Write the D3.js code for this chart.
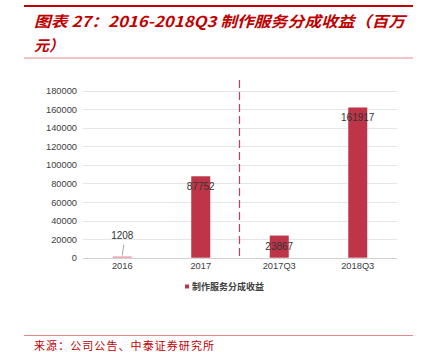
<!DOCTYPE html>
<html><head><meta charset="utf-8">
<script src="https://cdn.jsdelivr.net/npm/d3@7/dist/d3.min.js"></script>
<style>body{margin:0;background:#fff}svg{display:block}</style>
</head><body>
<script>
const categories = ["2016", "2017", "2017Q3", "2018Q3"];
const values = [1208, 87752, 23867, 161917];
const yTicks = [0, 20000, 40000, 60000, 80000, 100000, 120000, 140000, 160000, 180000];
const seriesName = "制作服务分成收益";
const titleLine1 = "图表 27：2016-2018Q3 制作服务分成收益（百万";
const titleLine2 = "元）";
const sourceText = "来源：公司公告、中泰证券研究所";

const W = 424, H = 352;
const svg = d3.select("body").append("svg").attr("width", W).attr("height", H);
const red = "#c00000";
const barColor = "#be3449";
const cjk = "'Noto Sans CJK SC', sans-serif";
const latin = "'Liberation Sans', Arial, sans-serif";

// header
svg.append("line").attr("x1", 24).attr("x2", 413).attr("y1", 6).attr("y2", 6)
  .attr("stroke", red).attr("stroke-width", 2);
svg.append("text").attr("x", 34).attr("y", 27).text(titleLine1)
  .attr("font-family", cjk).attr("font-size", 15).attr("font-weight", "bold")
  .attr("font-style", "italic").attr("fill", red)
  .attr("textLength", 371).attr("lengthAdjust", "spacingAndGlyphs");
svg.append("text").attr("x", 34).attr("y", 51).text(titleLine2)
  .attr("font-family", cjk).attr("font-size", 15).attr("font-weight", "bold")
  .attr("font-style", "italic").attr("fill", red);
svg.append("line").attr("x1", 24).attr("x2", 413).attr("y1", 58).attr("y2", 58)
  .attr("stroke", "#e88a8a").attr("stroke-width", 1);

// plot
const x = d3.scaleBand().domain(categories).range([83, 397]);
const y = d3.scaleLinear().domain([0, 180000]).range([257.7, 90.7]);

const grid = svg.append("g");
grid.selectAll("line").data(yTicks).join("line")
  .attr("x1", 83).attr("x2", 397)
  .attr("y1", d => Math.round(y(d)) + 0.5).attr("y2", d => Math.round(y(d)) + 0.5)
  .attr("stroke", d => d === 0 ? "#d0d0d0" : "#e6e6e6").attr("stroke-width", 1);

const yAxis = d3.axisLeft(y).tickValues(yTicks).tickSize(0).tickPadding(0).tickFormat(d3.format("d"));
const ya = svg.append("g").attr("transform", "translate(77,0)").call(yAxis);
ya.select(".domain").remove();
ya.selectAll("text").attr("font-family", latin).attr("font-size", 9.3).attr("fill", "#404040");

const xAxis = d3.axisBottom(x).tickSize(0).tickPadding(0);
const xa = svg.append("g").attr("transform", "translate(0,262)").call(xAxis);
xa.select(".domain").remove();
xa.selectAll("text").attr("font-family", latin).attr("font-size", 9.3).attr("fill", "#404040");

const bw = 19;
svg.append("g").selectAll("rect").data(categories).join("rect")
  .attr("x", (d) => x(d) + x.bandwidth() / 2 - bw / 2)
  .attr("width", bw)
  .attr("y", (d, i) => Math.min(y(values[i]), y(0) - 1.2))
  .attr("height", (d, i) => Math.max(y(0) - y(values[i]), 1.2))
  .attr("fill", (d, i) => i === 0 ? "#e88a98" : barColor);

// data labels
const labelG = svg.append("g");
values.forEach((v, i) => {
  const cx = x(categories[i]) + x.bandwidth() / 2;
  let ly;
  if (i === 0) {
    ly = y(v) - 18;
    labelG.append("line").attr("x1", cx + 1.5).attr("y1", ly + 6).attr("x2", cx).attr("y2", y(v) - 1)
      .attr("stroke", "#909090").attr("stroke-width", 0.8);
  } else {
    ly = y(v) + 14;
  }
  labelG.append("text").attr("x", cx).attr("y", ly).attr("text-anchor", "middle")
    .attr("font-family", latin).attr("font-size", 10).attr("fill", "#333").text(v);
});

// dashed separator between 2017 and 2017Q3
const sepX = x(categories[2]) - 0.5;
svg.append("line").attr("x1", sepX).attr("x2", sepX).attr("y1", 80).attr("y2", 258)
  .attr("stroke", "#c83a5a").attr("stroke-width", 1.2).attr("stroke-dasharray", "8,4");

// legend
svg.append("rect").attr("x", 185).attr("y", 284.5).attr("width", 4).attr("height", 4).attr("fill", barColor);
svg.append("text").attr("x", 192).attr("y", 290).text(seriesName)
  .attr("font-family", cjk).attr("font-size", 9).attr("font-weight", "bold").attr("fill", "#404040");

// footer
svg.append("line").attr("x1", 24).attr("x2", 413).attr("y1", 335.5).attr("y2", 335.5)
  .attr("stroke", "#e88a8a").attr("stroke-width", 1);
svg.append("text").attr("x", 34).attr("y", 350).text(sourceText)
  .attr("font-family", cjk).attr("font-size", 11).attr("fill", "#c00000")
  .attr("textLength", 180).attr("lengthAdjust", "spacing");
</script>
</body></html>
